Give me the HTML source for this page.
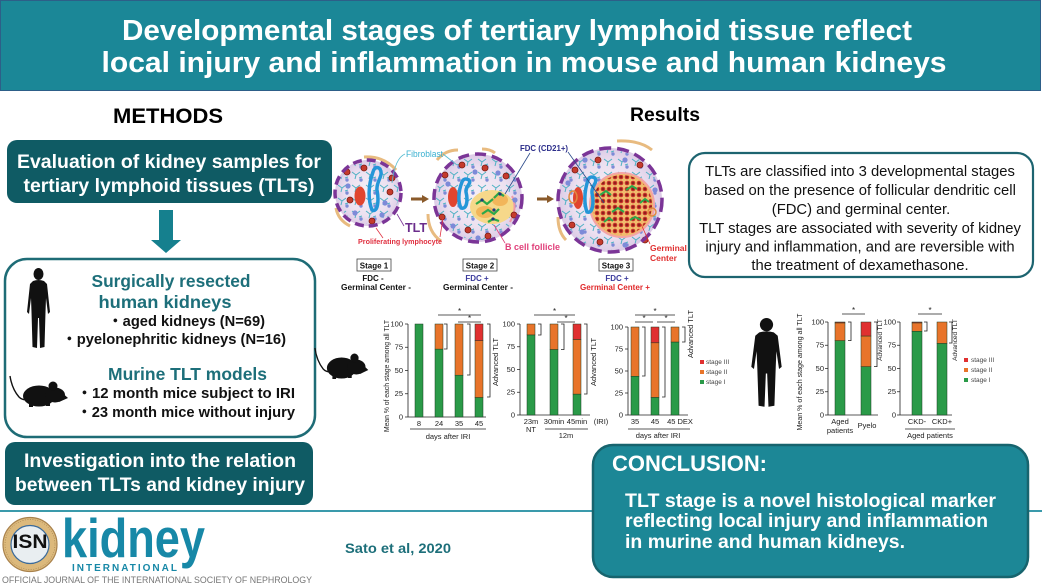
<!DOCTYPE html>
<html><head><meta charset="utf-8">
<style>
html,body{margin:0;padding:0;background:#fff;}
svg{display:block;}
text{font-family:"Liberation Sans",Arial,"Noto Sans CJK JP",sans-serif;}
.b{font-weight:bold;}
.ax{font-size:7.5px;fill:#222;}
.lg{font-size:6.5px;fill:#444;}
</style></head><body>
<svg width="1042" height="586" viewBox="0 0 1042 586" xmlns="http://www.w3.org/2000/svg">
<defs>
 <radialGradient id="tis" cx="50%" cy="50%" r="50%">
  <stop offset="0" stop-color="#f6f0f7"/>
  <stop offset="0.7" stop-color="#ece0f0"/>
  <stop offset="1" stop-color="#dccbe6"/>
 </radialGradient>
 <pattern id="fib" width="14" height="13" patternUnits="userSpaceOnUse">
  <path d="M2,3 L6,6 L10,3 M6,6 L5,10 M9,9 L12,8" stroke="#4fb1c4" stroke-width="1" fill="none"/>
  <circle cx="11" cy="11" r="1.7" fill="#7d8bd6"/>
 </pattern>
 <pattern id="gc" width="6" height="6" patternUnits="userSpaceOnUse">
  <circle cx="3" cy="3" r="2.3" fill="#c3302a"/>
  <circle cx="3" cy="3" r="0.9" fill="#6b1410"/>
 </pattern>
 <g id="human" fill="#111">
  <ellipse cx="12.5" cy="6" rx="5" ry="6"/>
  <path d="M7,13 Q12.5,11 18,13 L21,16 L24,44 L22,46 L20,30 L19.5,44 L18.5,79 L14,80 L13,50 L12,50 L11,80 L6.5,79 L5.5,44 L5,30 L3,46 L1,44 L4,16 Z"/>
 </g>
 <g id="mouse" fill="#111">
  <path d="M1,1 Q3,14 10,22 Q14,26 20,24" stroke="#111" stroke-width="1.4" fill="none"/>
  <ellipse cx="30" cy="21" rx="16" ry="10.5"/>
  <ellipse cx="46" cy="20" rx="10" ry="7.5"/>
  <polygon points="50,15 59,23 50,27"/>
  <circle cx="44" cy="11" r="4.5"/>
  <rect x="20" y="29" width="4" height="3"/>
  <rect x="37" y="28" width="4" height="3"/>
 </g>
 <g id="rd"><circle r="3" fill="#c53b2d" stroke="#7a1a10" stroke-width="0.8"/></g>
 <g id="bd"><circle r="2.6" fill="#7d8ad8"/></g>
</defs>

<!-- HEADER -->
<rect x="0.5" y="0.5" width="1040" height="90" fill="#1b8797" stroke="#2d5f88" stroke-width="1"/>
<text x="517" y="40" text-anchor="middle" class="b" font-size="29" fill="#fff" textLength="790" lengthAdjust="spacingAndGlyphs">Developmental stages of tertiary lymphoid tissue reflect</text>
<text x="524" y="72" text-anchor="middle" class="b" font-size="29" fill="#fff" textLength="845" lengthAdjust="spacingAndGlyphs">local injury and inflammation in mouse and human kidneys</text>

<!-- METHODS -->
<text x="168" y="123" text-anchor="middle" class="b" font-size="21" fill="#000" textLength="110" lengthAdjust="spacingAndGlyphs">METHODS</text>
<text x="665" y="121" text-anchor="middle" class="b" font-size="19" fill="#000" textLength="70" lengthAdjust="spacingAndGlyphs">Results</text>

<rect x="7" y="140" width="325" height="63" rx="10" fill="#0f5b64"/>
<text x="169" y="168" text-anchor="middle" class="b" font-size="19.5" fill="#fff" textLength="304" lengthAdjust="spacingAndGlyphs">Evaluation of kidney samples for</text>
<text x="169" y="192" text-anchor="middle" class="b" font-size="19.5" fill="#fff" textLength="291" lengthAdjust="spacingAndGlyphs">tertiary lymphoid tissues (TLTs)</text>

<polygon points="159,210 173,210 173,240 181,240 166,253 151,240 159,240" fill="#15808e"/>

<rect x="5" y="259" width="310" height="178" rx="22" fill="#fff" stroke="#1e6c76" stroke-width="2.5"/>
<use href="#human" transform="translate(26,268)"/>
<text x="171" y="287" text-anchor="middle" class="b" font-size="17.5" fill="#1d6f7a" textLength="159" lengthAdjust="spacingAndGlyphs">Surgically resected</text>
<text x="165" y="308" text-anchor="middle" class="b" font-size="17.5" fill="#1d6f7a" textLength="133" lengthAdjust="spacingAndGlyphs">human kidneys</text>
<text x="108" y="326" class="b" font-size="15" fill="#111" textLength="157" lengthAdjust="spacingAndGlyphs">・aged kidneys (N=69)</text>
<text x="62" y="344" class="b" font-size="15" fill="#111" textLength="224" lengthAdjust="spacingAndGlyphs">・pyelonephritic kidneys (N=16)</text>
<text x="108" y="380" class="b" font-size="17.5" fill="#1d6f7a" textLength="159" lengthAdjust="spacingAndGlyphs">Murine TLT models</text>
<text x="77" y="398" class="b" font-size="15" fill="#111" textLength="218" lengthAdjust="spacingAndGlyphs">・12 month mice subject to IRI</text>
<text x="77" y="417" class="b" font-size="15" fill="#111" textLength="218" lengthAdjust="spacingAndGlyphs">・23 month mice without injury</text>
<use href="#mouse" transform="translate(9,375)"/>

<!-- horizontal line -->
<line x1="0" y1="511" x2="1042" y2="511" stroke="#3a9aab" stroke-width="2"/>

<rect x="5" y="442" width="308" height="63" rx="10" fill="#0f5b64"/>
<text x="160" y="467" text-anchor="middle" class="b" font-size="19.5" fill="#fff" textLength="272" lengthAdjust="spacingAndGlyphs">Investigation into the relation</text>
<text x="160" y="491" text-anchor="middle" class="b" font-size="19.5" fill="#fff" textLength="290" lengthAdjust="spacingAndGlyphs">between TLTs and kidney injury</text>

<!-- LOGO -->
<circle cx="30" cy="544.5" r="27" fill="#dcb97c" stroke="#a9824c" stroke-width="1.2"/>
<circle cx="30" cy="544.5" r="25" fill="none" stroke="#8a6a3a" stroke-width="0.5" stroke-dasharray="1 1.5"/>
<circle cx="30" cy="544.5" r="19" fill="#e9eef1" stroke="#3a6a9a" stroke-width="1.2"/>
<text x="30" y="548" text-anchor="middle" class="b" font-size="19" fill="#111" textLength="35" lengthAdjust="spacingAndGlyphs">ISN</text>
<text x="62" y="557" class="b" font-size="55" fill="#1788a7" textLength="143" lengthAdjust="spacingAndGlyphs">kidney</text>
<text x="72" y="571" class="b" font-size="10" fill="#1788a7" textLength="105" lengthAdjust="spacing">INTERNATIONAL</text>
<text x="2" y="583" font-size="9" fill="#777" textLength="310" lengthAdjust="spacingAndGlyphs">OFFICIAL JOURNAL OF THE INTERNATIONAL SOCIETY OF NEPHROLOGY</text>
<text x="345" y="553" class="b" font-size="14" fill="#1d6f7a" textLength="106" lengthAdjust="spacingAndGlyphs">Sato et al, 2020</text>

<!-- ILLUSTRATION -->
<!-- stage 1 -->
<path d="M364,157 Q384,156 396,170" stroke="#e8bb80" stroke-width="3" fill="none"/>
<path d="M336,208 Q338,220 350,226" stroke="#e8bb80" stroke-width="3" fill="none"/>
<circle cx="368" cy="193" r="33" fill="url(#tis)"/>
<circle cx="368" cy="193" r="31" fill="url(#fib)"/>
<ellipse cx="360" cy="196" rx="5.5" ry="9.5" fill="#e0452f"/>
<path d="M373,172 C368,186 368,200 372,210 C378,213 379,200 377,190 C376,181 384,176 380,169 C377,166 374,168 373,172Z" fill="none" stroke="#2596d8" stroke-width="3.5"/>
<use href="#rd" x="347" y="172"/><use href="#rd" x="350" y="200"/><use href="#rd" x="390" y="192"/><use href="#rd" x="392" y="178"/><use href="#rd" x="372" y="221"/><use href="#rd" x="364" y="168"/>
<use href="#bd" x="348" y="186"/><use href="#bd" x="385" y="203"/><use href="#bd" x="382" y="215"/><use href="#bd" x="355" y="213"/>
<circle cx="368" cy="193" r="33" fill="none" stroke="#7b3597" stroke-width="3.5" stroke-dasharray="9 5"/>

<!-- arrow 1 -->
<line x1="411" y1="199" x2="423" y2="199" stroke="#8a5a2a" stroke-width="3"/>
<polygon points="422,195 429,199 422,203" fill="#8a5a2a"/>

<!-- stage 2 -->
<path d="M437,160 Q445,150 458,150" stroke="#e8bb80" stroke-width="3" fill="none"/>
<path d="M482,149 Q490,149 495,153" stroke="#e8bb80" stroke-width="3" fill="none"/>
<path d="M428,214 Q428,232 441,241" stroke="#e8bb80" stroke-width="3" fill="none"/>
<circle cx="478" cy="198" r="44" fill="url(#tis)"/>
<circle cx="478" cy="198" r="42" fill="url(#fib)"/>
<ellipse cx="492" cy="207" rx="22" ry="17" fill="#f6d88a"/>
<ellipse cx="485" cy="212" rx="9" ry="6" fill="#f1ae4e" opacity="0.8"/>
<ellipse cx="500" cy="200" rx="8" ry="6" fill="#f1ae4e" opacity="0.8"/>
<path d="M512,196 Q518,208 510,222" stroke="#ee9aa8" stroke-width="2" fill="none"/>
<path d="M476,204 l6,-4 l5,4 l6,-5 M482,214 l6,-4 l6,4 l5,-5 M494,198 l5,-5 l5,3 M488,222 l5,-3 l6,2" stroke="#2ba84a" stroke-width="2.2" fill="none"/>
<circle cx="482" cy="200" r="1.6" fill="#203a7a"/><circle cx="494" cy="210" r="1.6" fill="#203a7a"/><circle cx="500" cy="194" r="1.6" fill="#203a7a"/><circle cx="493" cy="219" r="1.6" fill="#203a7a"/>
<ellipse cx="453" cy="197" rx="5" ry="10" fill="#e0452f"/>
<path d="M462,182 C458,192 458,202 461,208 C467,210 468,200 466,192 C465,186 472,184 469,180 C466,178 463,179 462,182Z" fill="none" stroke="#2596d8" stroke-width="3.5"/>
<use href="#rd" x="445" y="175"/><use href="#rd" x="462" y="165"/><use href="#rd" x="485" y="168"/><use href="#rd" x="506" y="176"/><use href="#rd" x="442" y="217"/><use href="#rd" x="468" y="230"/><use href="#rd" x="488" y="236"/><use href="#rd" x="514" y="215"/>
<use href="#bd" x="448" y="184"/><use href="#bd" x="475" y="172"/><use href="#bd" x="498" y="173"/><use href="#bd" x="453" y="226"/><use href="#bd" x="478" y="238"/><use href="#bd" x="515" y="200"/>
<circle cx="478" cy="198" r="44" fill="none" stroke="#7b3597" stroke-width="3.5" stroke-dasharray="11 6"/>

<!-- arrow 2 -->
<line x1="537" y1="199" x2="548" y2="199" stroke="#8a5a2a" stroke-width="3"/>
<polygon points="547,195 554,199 547,203" fill="#8a5a2a"/>

<!-- stage 3 -->
<path d="M617,141 Q640,140 652,150" stroke="#e8bb80" stroke-width="3" fill="none"/>
<path d="M558,217 Q558,232 566,240" stroke="#e8bb80" stroke-width="3" fill="none"/>
<circle cx="610" cy="200" r="52" fill="url(#tis)"/>
<circle cx="610" cy="200" r="50" fill="url(#fib)"/>
<circle cx="622" cy="205" r="32" fill="#f1bb6c" stroke="#f4a4a4" stroke-width="2"/>
<circle cx="622" cy="205" r="30" fill="url(#gc)"/>
<path d="M600,195 l6,-4 l5,4 M612,212 l6,-4 l6,4 M626,190 l6,-4 l5,3 M630,220 l5,-3 l6,3 M604,222 l5,-4 l4,3 M640,203 l5,-4 l4,3" stroke="#2ba84a" stroke-width="2" fill="none"/>
<ellipse cx="578" cy="198" rx="5" ry="11" fill="#e0452f"/>
<path d="M588,180 C584,192 584,204 587,212 C593,214 594,202 592,193 C591,186 598,183 595,178 C592,176 589,177 588,180Z" fill="none" stroke="#2596d8" stroke-width="3.5"/>
<ellipse cx="573" cy="197" rx="4" ry="6" fill="none" stroke="#e08a40" stroke-width="1.5"/>
<ellipse cx="652" cy="212" rx="4" ry="4" fill="none" stroke="#e08a40" stroke-width="1.5"/>
<use href="#rd" x="575" y="170"/><use href="#rd" x="598" y="160"/><use href="#rd" x="640" y="165"/><use href="#rd" x="572" y="225"/><use href="#rd" x="600" y="242"/><use href="#rd" x="645" y="240"/>
<use href="#bd" x="568" y="183"/><use href="#bd" x="585" y="160"/><use href="#bd" x="625" y="160"/><use href="#bd" x="582" y="232"/><use href="#bd" x="625" y="245"/><use href="#bd" x="655" y="190"/>
<circle cx="610" cy="200" r="52" fill="none" stroke="#7b3597" stroke-width="3.5" stroke-dasharray="12 6"/>

<!-- illustration labels -->
<path d="M405,154 Q395,158 392,183 M443,154 L457,165" stroke="#55bbd0" stroke-width="0.8" fill="none"/>
<text x="406" y="157" font-size="9" fill="#3ab0d0" textLength="37" lengthAdjust="spacingAndGlyphs">Fibroblast</text>
<path d="M530,153 L505,194 M568,152 L604,203" stroke="#2b4a8a" stroke-width="0.8" fill="none"/>
<text x="520" y="151" class="b" font-size="8.5" fill="#2b2d8a" textLength="48" lengthAdjust="spacingAndGlyphs">FDC (CD21+)</text>
<path d="M404,226 L397,214" stroke="#7b3597" stroke-width="0.8" fill="none"/>
<text x="405" y="232" class="b" font-size="13" fill="#6b2d8c" textLength="22" lengthAdjust="spacingAndGlyphs">TLT</text>
<path d="M376,228 L383,238 M440,237 L443,218" stroke="#e03040" stroke-width="0.8" fill="none"/>
<text x="358" y="244" class="b" font-size="7.5" fill="#e03040" textLength="84" lengthAdjust="spacingAndGlyphs">Proliferating lymphocyte</text>
<path d="M494,225 L505,243" stroke="#e0407a" stroke-width="0.8" fill="none"/>
<text x="505" y="250" class="b" font-size="9" fill="#e0407a" textLength="55" lengthAdjust="spacingAndGlyphs">B cell follicle</text>
<path d="M641,224 L650,244" stroke="#e03030" stroke-width="0.8" fill="none"/>
<text x="650" y="251" class="b" font-size="8.5" fill="#e03030">Germinal</text>
<text x="650" y="261" class="b" font-size="8.5" fill="#e03030">Center</text>

<rect x="357" y="259" width="34" height="12" fill="#fff" stroke="#444" stroke-width="0.8"/>
<text x="374" y="268.5" text-anchor="middle" class="b" font-size="8" fill="#111">Stage 1</text>
<text x="373" y="281" text-anchor="middle" class="b" font-size="8" fill="#111">FDC -</text>
<text x="376" y="290" text-anchor="middle" class="b" font-size="8" fill="#111" textLength="70" lengthAdjust="spacingAndGlyphs">Germinal Center -</text>
<rect x="463" y="259" width="34" height="12" fill="#fff" stroke="#444" stroke-width="0.8"/>
<text x="480" y="268.5" text-anchor="middle" class="b" font-size="8" fill="#111">Stage 2</text>
<text x="477" y="281" text-anchor="middle" class="b" font-size="8" fill="#3a3a9c">FDC +</text>
<text x="478" y="290" text-anchor="middle" class="b" font-size="8" fill="#111" textLength="70" lengthAdjust="spacingAndGlyphs">Germinal Center -</text>
<rect x="599" y="259" width="34" height="12" fill="#fff" stroke="#444" stroke-width="0.8"/>
<text x="616" y="268.5" text-anchor="middle" class="b" font-size="8" fill="#111">Stage 3</text>
<text x="617" y="281" text-anchor="middle" class="b" font-size="8" fill="#3a3a9c">FDC +</text>
<text x="615" y="290" text-anchor="middle" class="b" font-size="8" fill="#e0282a" textLength="70" lengthAdjust="spacingAndGlyphs">Germinal Center +</text>

<!-- TEXT BOX -->
<rect x="689" y="153" width="344" height="124" rx="16" fill="#fff" stroke="#1d6470" stroke-width="2.2"/>
<g font-size="14.8" fill="#111" text-anchor="middle">
<text x="860" y="176">TLTs are classified into 3 developmental stages</text>
<text x="860" y="195">based on the presence of follicular dendritic cell</text>
<text x="861" y="214">(FDC) and germinal center.</text>
<text x="860" y="233">TLT stages are associated with severity of kidney</text>
<text x="860" y="251.5">injury and inflammation, and are reversible with</text>
<text x="860" y="270">the treatment of dexamethasone.</text>
</g>

<!-- MOUSE CHARTS -->
<use href="#mouse" transform="translate(314,347) scale(0.92,1)"/>
<text transform="translate(389,376) rotate(-90)" text-anchor="middle" font-size="7" fill="#222" textLength="112" lengthAdjust="spacingAndGlyphs">Mean % of each stage among all TLT</text>

<g stroke="#222" stroke-width="0.8" fill="none">
 <!-- chart1 axes -->
 <path d="M408,324 V417 H486 M405,324 H408 M405,347.25 H408 M405,370.5 H408 M405,393.75 H408 M405,417 H408"/>
 <path d="M410,429 H486"/>
 <path d="M438,315 H481 M458,322 H481"/>
 <path d="M444,324 h3 v25 h-3 M467,324 h3 v51 h-3 M487,324 h3 v73 h-3"/>
 <!-- chart2 -->
 <path d="M520,324 V415 H590 M517,324 H520 M517,346.75 H520 M517,369.5 H520 M517,392.25 H520 M517,415 H520"/>
 <path d="M545,429 H588"/>
 <path d="M534,315 H575 M557,322 H575"/>
 <path d="M538,324 h3 v11 h-3 M561,324 h3 v25.5 h-3 M584,324 h3 v70 h-3"/>
 <!-- chart3 -->
 <path d="M628,327 V415 H688 M625,327 H628 M625,349 H628 M625,371 H628 M625,393 H628 M625,415 H628"/>
 <path d="M628,429 H690"/>
 <path d="M635,315 H675 M635,322 H653 M657,322 H675"/>
 <path d="M642,327 h3 v49 h-3 M662,327 h3 v70 h-3 M682,327 h3 v15 h-3"/>
 <!-- chart4 -->
 <path d="M828,322 V415 H878 M825,322 H828 M825,345.25 H828 M825,368.5 H828 M825,391.75 H828 M825,415 H828"/>
 <path d="M842,314 H865"/>
 <path d="M848,322 h3 v18.6 h-3 M874,322 h3 v44.6 h-3"/>
 <!-- chart5 -->
 <path d="M900,322 V415 H952 M897,322 H900 M897,345.25 H900 M897,368.5 H900 M897,391.75 H900 M897,415 H900"/>
 <path d="M905,429 H955"/>
 <path d="M918,314 H942"/>
 <path d="M924,322 h3 v9 h-3 M949,322 h3 v21 h-3"/>
</g>

<g stroke="#1d3d22" stroke-width="0.5">
 <!-- chart1 bars -->
 <rect x="415" y="324" width="8" height="93" fill="#2a9a48"/>
 <rect x="435" y="349.1" width="8" height="67.9" fill="#2a9a48"/><rect x="435" y="324" width="8" height="25.1" fill="#e8742a"/>
 <rect x="455" y="375.2" width="8" height="41.8" fill="#2a9a48"/><rect x="455" y="324" width="8" height="51.2" fill="#e8742a"/>
 <rect x="475" y="397.5" width="8" height="19.5" fill="#2a9a48"/><rect x="475" y="340.7" width="8" height="56.8" fill="#e8742a"/><rect x="475" y="324" width="8" height="16.7" fill="#e03030"/>
 <!-- chart2 -->
 <rect x="527" y="334.9" width="8" height="80.1" fill="#2a9a48"/><rect x="527" y="324" width="8" height="10.9" fill="#e8742a"/>
 <rect x="550" y="349.5" width="8" height="65.5" fill="#2a9a48"/><rect x="550" y="324" width="8" height="25.5" fill="#e8742a"/>
 <rect x="573" y="394.1" width="8" height="20.9" fill="#2a9a48"/><rect x="573" y="339.5" width="8" height="54.6" fill="#e8742a"/><rect x="573" y="324" width="8" height="15.5" fill="#e03030"/>
 <!-- chart3 -->
 <rect x="631" y="376.3" width="8" height="38.7" fill="#2a9a48"/><rect x="631" y="327" width="8" height="49.3" fill="#e8742a"/>
 <rect x="651" y="397.4" width="8" height="17.6" fill="#2a9a48"/><rect x="651" y="342.8" width="8" height="54.6" fill="#e8742a"/><rect x="651" y="327" width="8" height="15.8" fill="#e03030"/>
 <rect x="671" y="342" width="8" height="73" fill="#2a9a48"/><rect x="671" y="327" width="8" height="15" fill="#e8742a"/>
 <!-- chart4 -->
 <rect x="835" y="340.6" width="10" height="74.4" fill="#2a9a48"/><rect x="835" y="322.9" width="10" height="17.7" fill="#e8742a"/><rect x="835" y="322" width="10" height="0.9" fill="#e03030"/>
 <rect x="861" y="366.6" width="10" height="48.4" fill="#2a9a48"/><rect x="861" y="336" width="10" height="30.6" fill="#e8742a"/><rect x="861" y="322" width="10" height="14" fill="#e03030"/>
 <!-- chart5 -->
 <rect x="912" y="331.3" width="10" height="83.7" fill="#2a9a48"/><rect x="912" y="322.9" width="10" height="8.4" fill="#e8742a"/><rect x="912" y="322" width="10" height="0.9" fill="#e03030"/>
 <rect x="937" y="343.4" width="10" height="71.6" fill="#2a9a48"/><rect x="937" y="322" width="10" height="21.4" fill="#e8742a"/>
</g>

<!-- chart1 labels -->
<g class="ax" text-anchor="end">
 <text x="403" y="326.5">100</text><text x="403" y="349.7">75</text><text x="403" y="373">50</text><text x="403" y="396.2">25</text><text x="403" y="419.5">0</text>
 <text x="515" y="326.5">100</text><text x="515" y="349.2">75</text><text x="515" y="372">50</text><text x="515" y="394.7">25</text><text x="515" y="417.5">0</text>
 <text x="623" y="329.5">100</text><text x="623" y="351.5">75</text><text x="623" y="373.5">50</text><text x="623" y="395.5">25</text><text x="623" y="417.5">0</text>
 <text x="824" y="324.5">100</text><text x="824" y="347.7">75</text><text x="824" y="371">50</text><text x="824" y="394.2">25</text><text x="824" y="417.5">0</text>
 <text x="896" y="324.5">100</text><text x="896" y="347.7">75</text><text x="896" y="371">50</text><text x="896" y="394.2">25</text><text x="896" y="417.5">0</text>
</g>
<g class="ax" text-anchor="middle">
 <text x="419" y="426">8</text><text x="439" y="426">24</text><text x="459" y="426">35</text><text x="479" y="426">45</text>
 <text x="448" y="439">days after IRI</text>
 <text x="459.5" y="314" font-size="8">*</text><text x="469.5" y="321" font-size="8">*</text>
 <text x="531" y="424">23m</text><text x="531" y="432">NT</text><text x="554" y="424">30min</text><text x="577" y="424">45min</text><text x="601" y="424">(IRI)</text>
 <text x="566" y="438">12m</text>
 <text x="554.5" y="314" font-size="8">*</text><text x="566" y="321" font-size="8">*</text>
 <text x="635" y="424">35</text><text x="655" y="424">45</text><text x="680" y="424">45 DEX</text>
 <text x="658" y="438">days after IRI</text>
 <text x="655" y="314" font-size="8">*</text><text x="644" y="321" font-size="8">*</text><text x="666" y="321" font-size="8">*</text>
 <text x="840" y="424">Aged</text><text x="840" y="433">patients</text><text x="867" y="428">Pyelo</text>
 <text x="853.5" y="313" font-size="8">*</text>
 <text x="917" y="424">CKD-</text><text x="942" y="424">CKD+</text><text x="930" y="438">Aged patients</text>
 <text x="930" y="313" font-size="8">*</text>
</g>
<text transform="translate(498,362) rotate(-90)" text-anchor="middle" font-size="7.5" fill="#222">Advanced TLT</text>
<text transform="translate(596,362) rotate(-90)" text-anchor="middle" font-size="7.5" fill="#222">Advanced TLT</text>
<text transform="translate(693,334) rotate(-90)" text-anchor="middle" font-size="7.5" fill="#222">Advanced TLT</text>
<text transform="translate(882,340) rotate(-90)" text-anchor="middle" font-size="6.5" fill="#222">Advanced TLT</text>
<text transform="translate(957,340) rotate(-90)" text-anchor="middle" font-size="6.5" fill="#222">Advanced TLT</text>

<!-- legend 1 -->
<rect x="700" y="360" width="4" height="4" fill="#e03030"/><text x="706" y="364" class="lg">stage III</text>
<rect x="700" y="370" width="4" height="4" fill="#e8742a"/><text x="706" y="374" class="lg">stage II</text>
<rect x="700" y="380" width="4" height="4" fill="#2a9a48"/><text x="706" y="384" class="lg">stage I</text>

<!-- human chart -->
<use href="#human" transform="translate(750,318) scale(1.32,1.11)"/>
<text transform="translate(802,372) rotate(-90)" text-anchor="middle" font-size="7" fill="#222" textLength="117" lengthAdjust="spacingAndGlyphs">Mean % of each stage among all TLT</text>
<rect x="964" y="358" width="4" height="4" fill="#e03030"/><text x="971" y="362" class="lg">stage III</text>
<rect x="964" y="368" width="4" height="4" fill="#e8742a"/><text x="971" y="372" class="lg">stage II</text>
<rect x="964" y="378" width="4" height="4" fill="#2a9a48"/><text x="971" y="382" class="lg">stage I</text>

<!-- CONCLUSION -->
<rect x="593" y="445" width="435" height="132" rx="20" fill="#1c8796" stroke="#17646e" stroke-width="2.5"/>
<text x="612" y="471" class="b" font-size="22" fill="#fff" textLength="155" lengthAdjust="spacingAndGlyphs">CONCLUSION:</text>
<text x="625" y="507" class="b" font-size="19.5" fill="#fff" textLength="371" lengthAdjust="spacingAndGlyphs">TLT stage is a novel histological marker</text>
<text x="625" y="527" class="b" font-size="19.5" fill="#fff" textLength="363" lengthAdjust="spacingAndGlyphs">reflecting local injury and inflammation</text>
<text x="625" y="548" class="b" font-size="19.5" fill="#fff" textLength="280" lengthAdjust="spacingAndGlyphs">in murine and human kidneys.</text>
</svg>
</body></html>
